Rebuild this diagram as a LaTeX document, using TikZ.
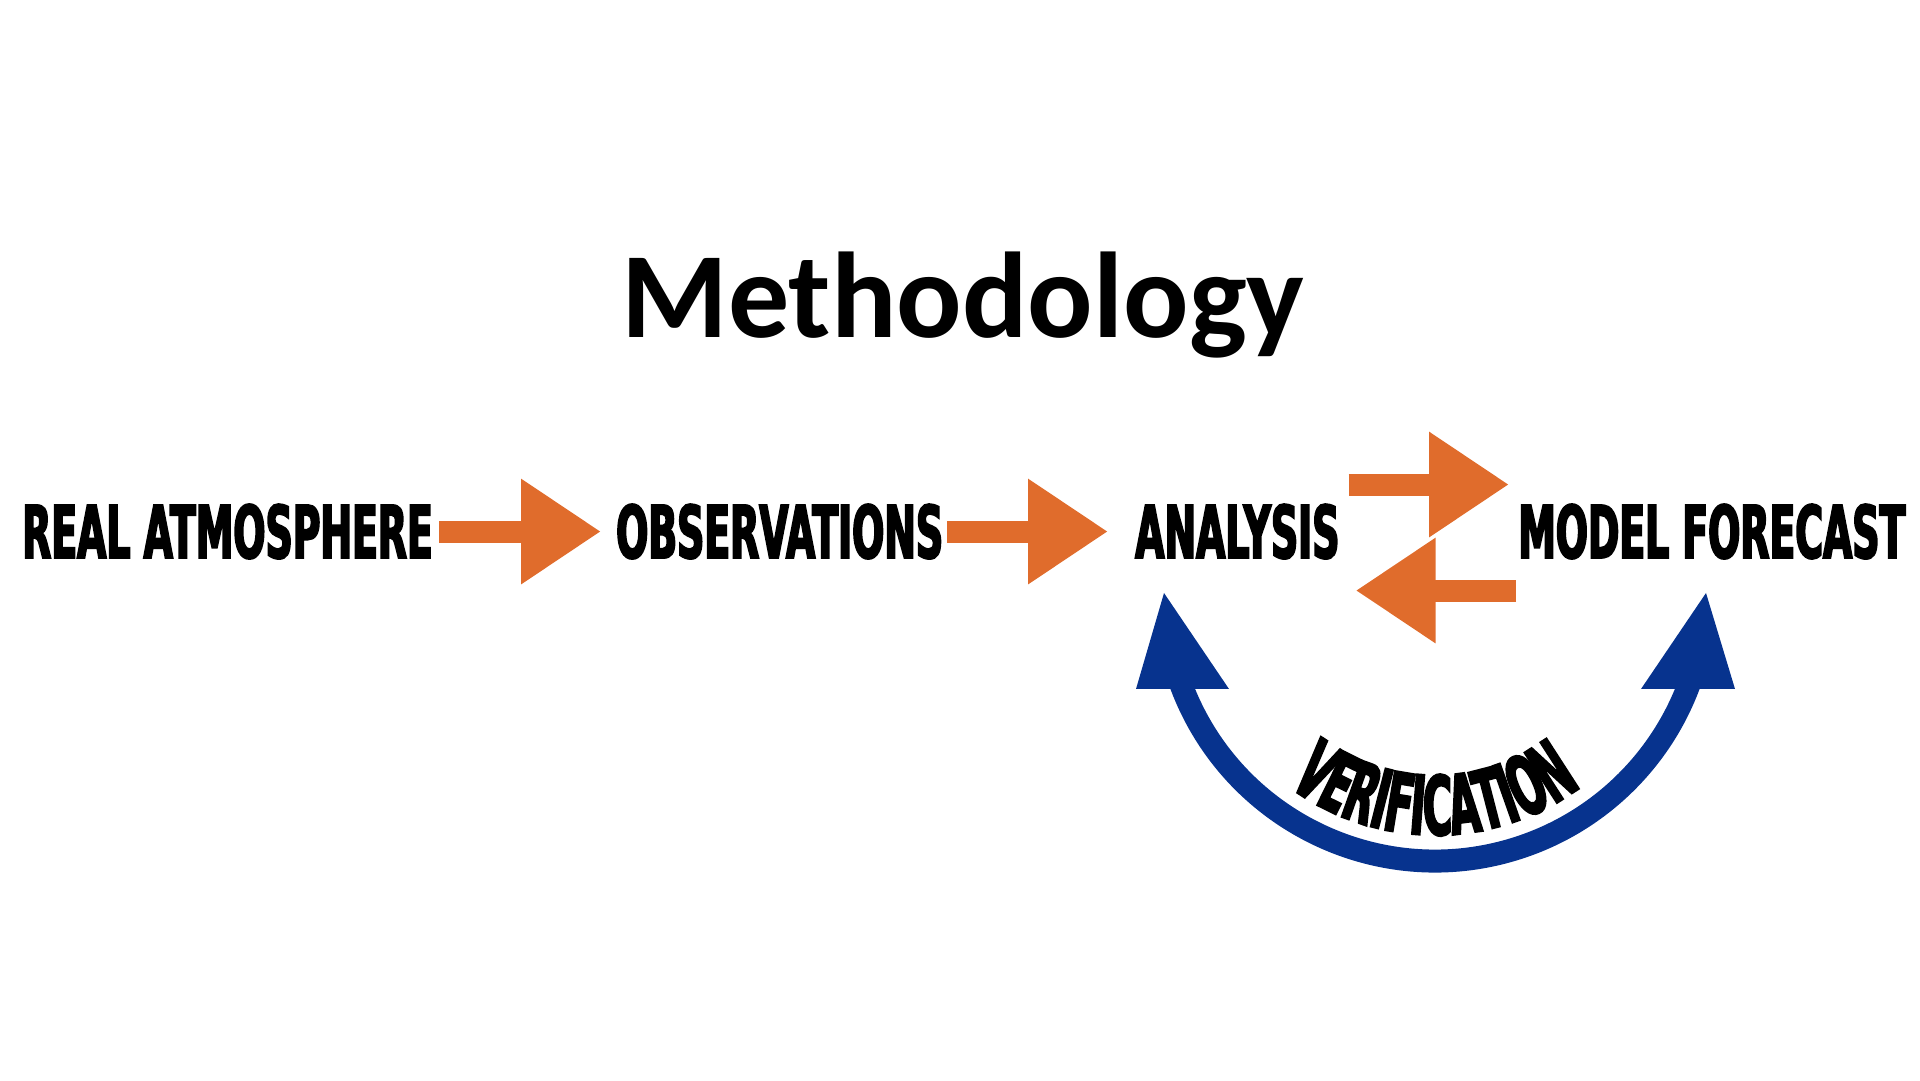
\documentclass[tikz,border=0pt]{standalone}
\usepackage{fontspec}
\usetikzlibrary{arrows.meta,decorations.text}
\newfontfamily\titlefont{Carlito}
\newfontfamily\rowfont{DejaVu Sans}[FakeStretch=0.52, FakeBold=2.5]
\newfontfamily\verifont{DejaVu Sans}[FakeStretch=0.485, FakeBold=2.5]
\definecolor{flowcol}{HTML}{E06C2C}
\definecolor{verifcol}{HTML}{07338E}
\newcommand\verifmt{\verifont\bfseries\fontsize{82pt}{90pt}\selectfont}
\tikzset{
  stage/.style={inner sep=0pt, anchor=base west, font=\rowfont\bfseries\fontsize{72.7pt}{80pt}\selectfont},
  flow/.style={draw=flowcol, line width=22pt, -{Triangle[length=80pt,width=100pt]}},
  verif/.style={draw=verifcol, line width=23pt}
}
\begin{document}
\begin{tikzpicture}[x=1pt,y=1pt]
    \useasboundingbox (0,0) rectangle (1920,1080);
    \node[anchor=base, inner sep=0pt, font=\titlefont\bfseries\fontsize{122pt}{132pt}\selectfont] (title) at (963,742) {Methodology};
    \node[stage] (real) at (22,522) {REAL ATMOSPHERE};
    \node[stage] (obs) at (616,522) {OBSERVATIONS};
    \node[stage] (ana) at (1135,522) {ANALYSIS};
    \node[stage] (fc) at (1518,522) {MODEL FORECAST};
    \draw[flow, shorten <=6pt, shorten >=15pt] (real.east) -- (obs.west);
    \draw[flow, shorten <=4pt, shorten >=27pt] (obs.east) -- (ana.west);
    % forecast cycle
    \draw[flow, shorten <=9pt, shorten >=9pt] ([yshift=47pt]ana.east) -- ([yshift=47pt]fc.west);
    \draw[flow, shorten <=2pt, shorten >=16pt] ([yshift=-59pt]fc.west) -- ([yshift=-59pt]ana.east);
    % verification loop
    \coordinate (vc) at (1435,490);
    \draw[verif] ([shift={(199:271pt)}]vc) arc[start angle=199, end angle=341, radius=271pt];
    \fill[verifcol] (1136,391) -- (1164,487) -- (1229,391) -- cycle;
    \fill[verifcol] (1641,391) -- (1706,487) -- (1735,391) -- cycle;
    \path[decorate, decoration={text along path, text={|\verifmt|VERIFICATION}, text align=center}]
      ([shift={(210:245pt)}]vc) arc[start angle=210, end angle=330, radius=245pt];
\end{tikzpicture}
\end{document}
